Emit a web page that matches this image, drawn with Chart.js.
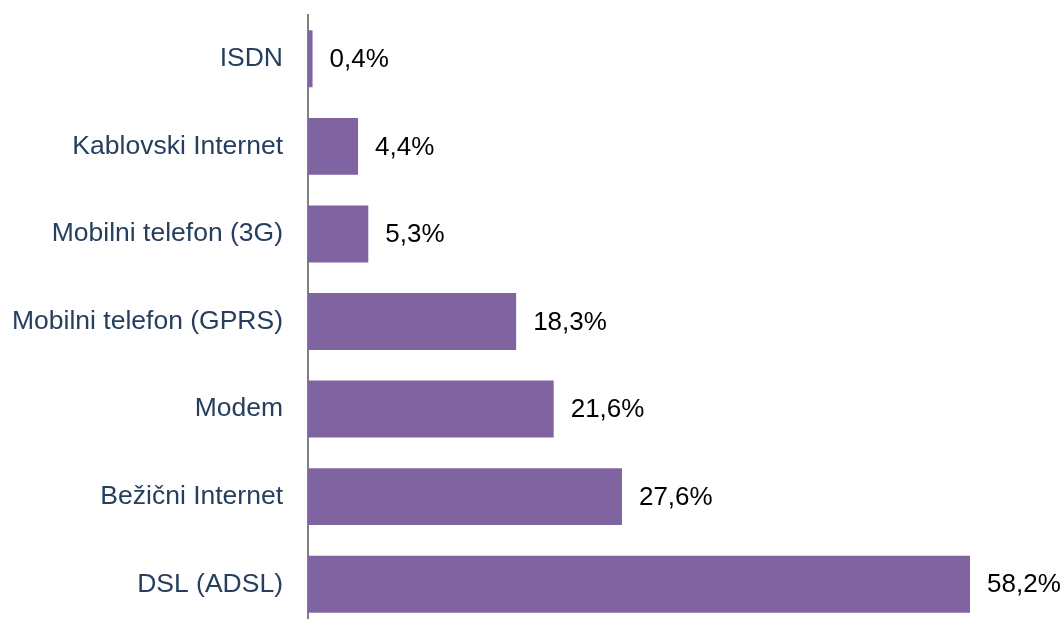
<!DOCTYPE html>
<html lang="sr">
<head>
  <meta charset="UTF-8" />
  <title>Vrsta internet konekcije</title>
  <script src="https://cdn.jsdelivr.net/npm/chart.js"></script>
  <style>
    html, body { margin: 0; padding: 0; background: #fff; overflow: hidden; }
    #wrap { position: relative; width: 1064px; height: 630px; }
  </style>
</head>
<body>
  <div id="wrap"><canvas id="connChart"></canvas></div>

  <script>
    const categories = ['ISDN', 'Kablovski Internet', 'Mobilni telefon (3G)', 'Mobilni telefon (GPRS)', 'Modem', 'Bežični Internet', 'DSL (ADSL)'];
    const shares = [0.4, 4.4, 5.3, 18.3, 21.6, 27.6, 58.2];

    const fontFamily = '"Liberation Sans", Arial, sans-serif';

    // value labels to the right of each bar, comma as decimal separator
    const valueLabels = {
      id: 'valueLabels',
      afterDatasetsDraw(chart) {
        const ctx = chart.ctx;
        const meta = chart.getDatasetMeta(0);
        ctx.save();
        ctx.font = '26px ' + fontFamily;
        ctx.fillStyle = '#000';
        ctx.textAlign = 'left';
        ctx.textBaseline = 'middle';
        meta.data.forEach((bar, i) => {
          const txt = shares[i].toFixed(1).replace('.', ',') + '%';
          ctx.fillText(txt, bar.x + 17, bar.y + 1);
        });
        ctx.restore();
      }
    };

    new Chart(document.getElementById('connChart'), {
      type: 'bar',
      data: {
        labels: categories,
        datasets: [{
          data: shares,
          backgroundColor: '#8064A2',
          categoryPercentage: 1,
          barPercentage: 0.65
        }]
      },
      options: {
        indexAxis: 'y',
        responsive: true,
        maintainAspectRatio: false,
        animation: false,
        layout: { padding: { top: 15, bottom: 2, right: 73.5, left: 0 } },
        plugins: {
          legend: { display: false },
          tooltip: { enabled: false }
        },
        scales: {
          x: {
            display: false,
            min: 0,
            max: 60
          },
          y: {
            afterFit: scale => {
              scale.width = 308;
              scale.paddingTop = 0;
              scale.paddingBottom = 0;
            },
            grid: { display: false, drawTicks: false },
            border: { display: true, color: '#808080', width: 2 },
            ticks: {
              color: '#263F5E',
              padding: 25,
              font: { family: fontFamily, size: 26.5 }
            }
          }
        }
      },
      plugins: [valueLabels]
    });
  </script>
</body>
</html>
